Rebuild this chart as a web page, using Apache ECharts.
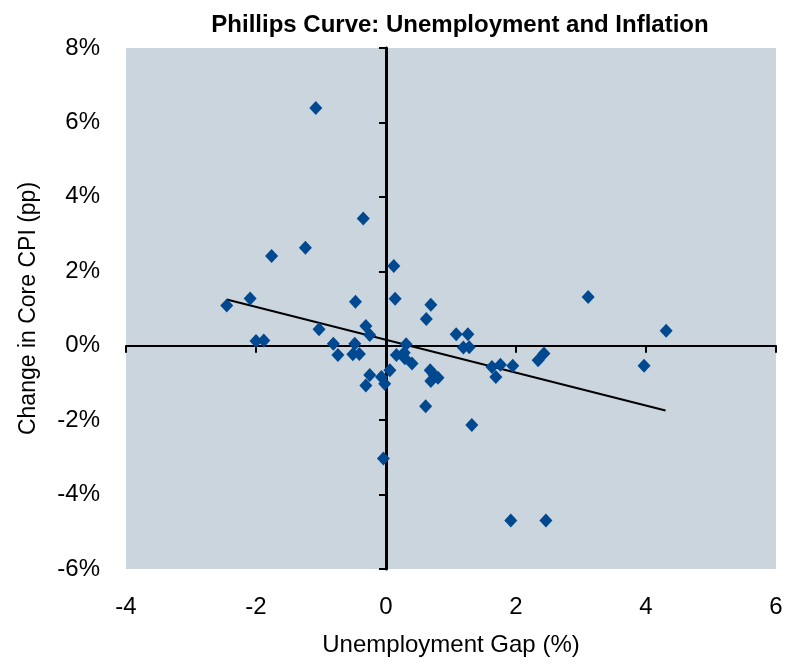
<!DOCTYPE html>
<html>
<head>
<meta charset="utf-8">
<script src="https://cdn.jsdelivr.net/npm/echarts@6/dist/echarts.min.js"></script>
<style>
  html, body { margin: 0; padding: 0; background: #fff; }
  #main { width: 787px; height: 665px; }
</style>
</head>
<body>
<div id="main"></div>
<script>
// unemployment gap (%) vs change in core CPI (pp)
const gapValues = [
  -1.08, -0.35, -1.24, -1.76, -2.09, -2.45, -0.47, 0.12, 0.14, 0.69,
  3.11, -1.03, -0.31, -0.25, -2.0, -1.88, -0.81, -0.74, -0.48, -0.51,
  -0.41, -0.25, -0.31, -0.07, -0.02, 0.06, -0.04, 0.62, 4.31, 1.08,
  1.26, 1.19, 1.28, 0.31, 0.16, 0.28, 0.29, 0.40, 0.68, 0.74,
  0.80, 0.69, 0.61, 1.32, 1.63, 1.76, 1.69, 1.95, 2.34, 2.43,
  3.97, 1.92, 2.46
];
const cpiValues = [
  6.39, 3.42, 2.63, 2.41, 1.27, 1.08, 1.18, 2.14, 1.26, 1.10,
  1.31, 0.44, 0.53, 0.29, 0.13, 0.14, 0.05, -0.25, 0.05, -0.23,
  -0.22, -0.79, -1.07, -0.84, -1.02, -0.66, -3.03, 0.72, 0.40, 0.31,
  0.31, -0.05, -0.04, 0.04, -0.25, -0.19, -0.34, -0.48, -0.66, -0.79,
  -0.86, -0.95, -1.63, -2.13, -0.57, -0.51, -0.84, -0.54, -0.39, -0.21,
  -0.54, -4.70, -4.70
];
// fitted trend line endpoints
const trendX = [-2.45, 4.30];
const trendY = [1.24, -1.74];

const points = gapValues.map((x, i) => [x, cpiValues[i]]);
const trend = trendX.map((x, i) => [x, trendY[i]]);

const font = '"Liberation Sans Narrow", "Liberation Sans", Arial, sans-serif';
const chart = echarts.init(document.getElementById('main'));
chart.setOption({
  animation: false,
  title: {
    text: 'Phillips Curve: Unemployment and Inflation',
    left: 455,
    textAlign: 'center',
    top: 8,
    textStyle: { fontFamily: font, fontWeight: 'bold', fontSize: 24, color: '#000' }
  },
  grid: {
    left: 126, right: 11, top: 48, bottom: 96,
    show: true, backgroundColor: '#cbd5de', borderWidth: 0
  },
  xAxis: [
    {
      type: 'value', min: -4, max: 6, interval: 2, position: 'bottom',
      name: 'Unemployment Gap (%)', nameLocation: 'middle', nameGap: 64,
      nameTextStyle: { fontFamily: font, fontSize: 24, color: '#000' },
      axisLine: { show: false, onZero: false },
      axisTick: { show: false },
      splitLine: { show: false },
      axisLabel: { margin: 26, fontFamily: font, fontSize: 24, color: '#000' }
    },
    {
      type: 'value', min: -4, max: 6, interval: 2,
      axisLine: { show: true, onZero: true, lineStyle: { color: '#000', width: 2 } },
      axisTick: { show: true, inside: true, length: 7, lineStyle: { color: '#000', width: 2 } },
      splitLine: { show: false },
      axisLabel: { show: false }
    }
  ],
  yAxis: [
    {
      type: 'value', min: -6, max: 8, interval: 2, position: 'left',
      name: 'Change in Core CPI (pp)', nameLocation: 'middle', nameGap: 86,
      nameTextStyle: { fontFamily: font, fontSize: 23, color: '#000' },
      axisLine: { show: false, onZero: false },
      axisTick: { show: false },
      splitLine: { show: false },
      axisLabel: { margin: 26, formatter: '{value}%', fontFamily: font, fontSize: 24, color: '#000' }
    },
    {
      type: 'value', min: -6, max: 8, interval: 2,
      axisLine: { show: true, onZero: true, lineStyle: { color: '#000', width: 3 } },
      axisTick: { show: true, inside: true, length: 7, lineStyle: { color: '#000', width: 2 } },
      splitLine: { show: false },
      axisLabel: { show: false }
    }
  ],
  series: [
    {
      type: 'line',
      data: trend,
      showSymbol: false,
      lineStyle: { color: '#000', width: 2 },
      z: 3
    },
    {
      type: 'scatter',
      data: points,
      symbol: 'diamond',
      symbolSize: [13, 14],
      itemStyle: { color: '#004990', opacity: 1 },
      z: 4
    }
  ]
});
</script>
</body>
</html>
